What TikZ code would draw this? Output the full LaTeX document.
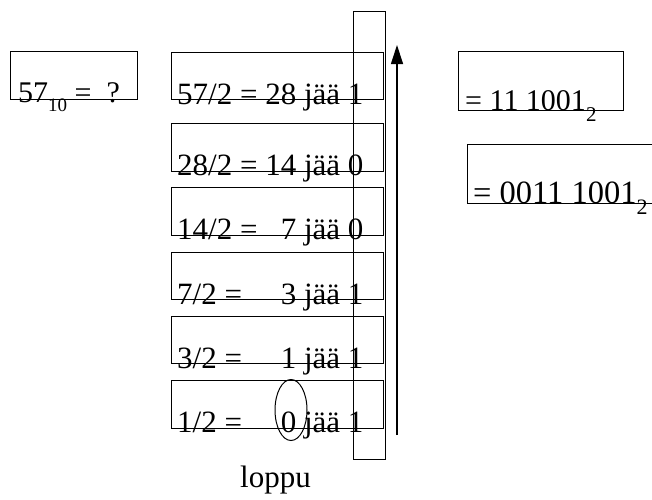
\documentclass[tikz,border=0pt]{standalone}
\usepackage{fontspec}
\setmainfont{Liberation Serif}
\usetikzlibrary{arrows.meta,shapes.geometric,calc}

% lowered index digits, size and drop given per use
\newcommand\subnum[3]{\raisebox{-#2pt}{\fontsize{#1}{#1}\selectfont #3}}

\tikzset{
  frame/.style={draw, line width=1pt, rectangle, inner sep=0pt, outer sep=0pt, anchor=north west},
  rowbox/.style={frame, minimum width=212pt, minimum height=47.5pt},
  txt/.style={inner sep=0pt, anchor=base west, font=\fontsize{31}{31}\selectfont},
}

\begin{document}
\begin{tikzpicture}[x=1pt, y=-1pt]
  \clip (0,0) rectangle (652,499);

  % starting value
  \node[frame, minimum width=127pt, minimum height=48pt] (start) at (10,51) {};
  \node[txt, font=\fontsize{30}{30}\selectfont] (starttxt) at (18,102) {57\subnum{19}{9.5}{10} =\ \ ?};

  % division steps
  \node[rowbox] (r1) at (171,52) {};
  \node[rowbox] (r2) at (171,123.5) {};
  \node[rowbox] (r3) at (171,187.5) {};
  \node[rowbox] (r4) at (171,252) {};
  \node[rowbox] (r5) at (171,316) {};
  \node[rowbox] (r6) at (171,380.5) {};

  \node[txt] (t1) at ($(r1.south west)+(6,4.5)$) {57/2 = 28 jää 1};
  \node[txt] (t2) at ($(r2.south west)+(6,4.5)$) {28/2 = 14 jää 0};
  \node[txt] (t3) at ($(r3.south west)+(6,4.5)$) {14/2 = \hphantom{1}7 jää 0};
  \node[txt] (t4) at ($(r4.south west)+(6,4.5)$) {7/2 =\hphantom{5} \hphantom{2}3 jää 1};
  \node[txt] (t5) at ($(r5.south west)+(6,4.5)$) {3/2 =\hphantom{5} \hphantom{2}1 jää 1};
  \node[txt] (t6) at ($(r6.south west)+(6,4.5)$) {1/2 =\hphantom{5} \hphantom{2}0 jää 1};

  % column of remainders
  \node[frame, minimum width=32pt, minimum height=448pt] (col) at (353,11) {};

  % the quotient that ends the division
  \node[draw, line width=1pt, ellipse, inner sep=0pt, minimum width=32pt, minimum height=61pt] (zero) at (291,410) {};

  % reading direction of the remainders
  \coordinate (up0) at (397,435);
  \coordinate (up1) at (397,45);
  \draw[line width=1.2pt, -{Triangle[length=19pt, width=12pt]}] (up0) -- (up1);

  % results
  \node[frame, minimum width=165pt, minimum height=59pt] (res1) at (458,51) {};
  \node[txt, font=\fontsize{30}{30}\selectfont] (res1txt) at (465,110.5) {= 11 1001\subnum{21}{11}{2}};
  \node[frame, minimum width=200pt, minimum height=59pt] (res2) at (467,144) {};
  \node[txt, font=\fontsize{32.5}{32.5}\selectfont] (res2txt) at (473,203.5) {= 0011 1001\subnum{22}{11}{2}};

  \node[txt] (end) at (240,487) {loppu};
\end{tikzpicture}
\end{document}
